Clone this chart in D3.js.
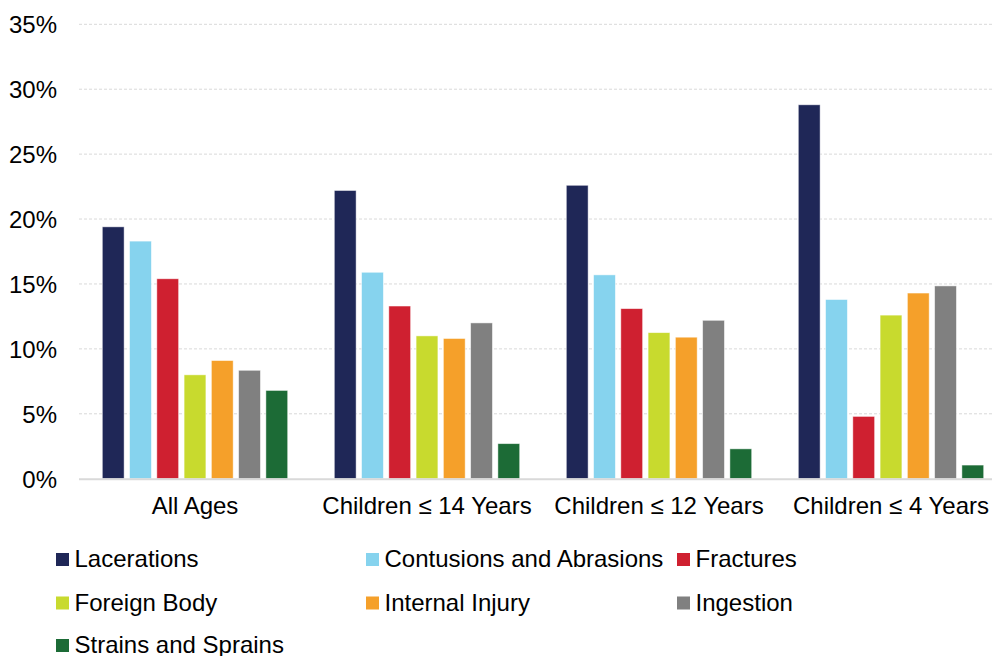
<!DOCTYPE html>
<html>
<head>
<meta charset="utf-8">
<script src="https://cdn.jsdelivr.net/npm/d3@7"></script>
<style>
  html, body { margin: 0; padding: 0; background: #fff; }
  svg { display: block; font-family: Arial, "Liberation Sans", sans-serif; }
</style>
</head>
<body>
<svg id="chart" width="995" height="656"></svg>
<script>
// Injury share by age group (percent of cases)
const groups = ["All Ages", "Children \u2264 14 Years", "Children \u2264 12 Years", "Children \u2264 4 Years"];
const seriesNames = ["Lacerations", "Contusions and Abrasions", "Fractures", "Foreign Body", "Internal Injury", "Ingestion", "Strains and Sprains"];
const seriesColors = ["#1f2757", "#86d3ee", "#cf2030", "#c8da2e", "#f5a02a", "#808080", "#1c6b36"];

const lacerations  = [19.4, 22.2, 22.6, 28.8];
const contusions   = [18.3, 15.9, 15.7, 13.8];
const fractures    = [15.4, 13.3, 13.1, 4.8];
const foreignBody  = [8.0, 11.0, 11.25, 12.6];
const internalInj  = [9.1, 10.8, 10.9, 14.3];
const ingestion    = [8.35, 12.0, 12.2, 14.85];
const strains      = [6.8, 2.7, 2.3, 1.05];

const yTicks = [0, 5, 10, 15, 20, 25, 30, 35];

const seriesValues = [lacerations, contusions, fractures, foreignBody, internalInj, ingestion, strains];

const svg = d3.select("#chart");
const fontSize = "24px";

const plot = { left: 79, right: 1007, top: 24.3, bottom: 478.7 };

const x0 = d3.scaleBand().domain(groups).range([plot.left, plot.right]).paddingInner(0).paddingOuter(0);
const x1 = d3.scaleBand().domain(seriesNames).range([23.3, x0.bandwidth() - 23.3]).paddingInner(0.2).paddingOuter(0);
const y = d3.scaleLinear().domain([0, 35]).range([plot.bottom, plot.top]);

// horizontal gridlines
svg.append("g")
  .selectAll("line")
  .data(yTicks.filter(d => d > 0))
  .join("line")
  .attr("x1", plot.left)
  .attr("x2", 992)
  .attr("y1", d => y(d))
  .attr("y2", d => y(d))
  .attr("stroke", "#d9d9d9")
  .attr("stroke-width", 1)
  .attr("stroke-dasharray", "3,2");

// y axis labels
const yAxis = d3.axisLeft(y).tickValues(yTicks).tickSize(0).tickPadding(0).tickFormat(d => d + "%");
svg.append("g")
  .attr("transform", "translate(57,0)")
  .call(yAxis)
  .call(g => g.select(".domain").remove())
  .call(g => g.selectAll("text")
    .attr("font-size", fontSize)
    .attr("font-family", "Arial, 'Liberation Sans', sans-serif")
    .attr("fill", "#000")
    .attr("dy", "0.36em"));

// bars
const rows = groups.map((g, gi) => ({ group: g, values: seriesNames.map((s, si) => ({ series: s, idx: si, value: seriesValues[si][gi] })) }));

svg.append("g")
  .selectAll("g")
  .data(rows)
  .join("g")
  .attr("transform", d => `translate(${x0(d.group)},0)`)
  .selectAll("rect")
  .data(d => d.values)
  .join("rect")
  .attr("x", d => x1(d.series))
  .attr("width", x1.bandwidth())
  .attr("y", d => y(d.value))
  .attr("height", d => y(0) - y(d.value))
  .attr("fill", d => seriesColors[d.idx])
  .attr("stroke", "#ffffff")
  .attr("stroke-opacity", 0.6)
  .attr("stroke-width", 0.8);

// baseline
svg.append("line")
  .attr("x1", plot.left).attr("x2", 992)
  .attr("y1", y(0) + 0.5).attr("y2", y(0) + 0.5)
  .attr("stroke", "#d9d9d9")
  .attr("stroke-width", 2);

// x axis labels
const xAxis = d3.axisBottom(x0).tickSize(0).tickPadding(0);
svg.append("g")
  .attr("transform", `translate(0,${y(0)})`)
  .call(xAxis)
  .call(g => g.select(".domain").remove())
  .call(g => g.selectAll("text")
    .attr("font-size", fontSize)
    .attr("font-family", "Arial, 'Liberation Sans', sans-serif")
    .attr("fill", "#000")
    .attr("y", 35.5)
    .attr("dy", 0));

// legend
const legendCols = [56, 366, 677];
const legendRows = [567, 610.5, 653];
const legend = svg.append("g")
  .selectAll("g")
  .data(seriesNames)
  .join("g")
  .attr("transform", (d, i) => `translate(${legendCols[i % 3]},${legendRows[Math.floor(i / 3)]})`);

legend.append("rect")
  .attr("x", 0)
  .attr("y", -14)
  .attr("width", 13)
  .attr("height", 13)
  .attr("fill", (d, i) => seriesColors[i]);

legend.append("text")
  .attr("x", 18.5)
  .attr("y", 0)
  .attr("font-size", fontSize)
  .attr("fill", "#000")
  .text(d => d);
</script>
</body>
</html>
